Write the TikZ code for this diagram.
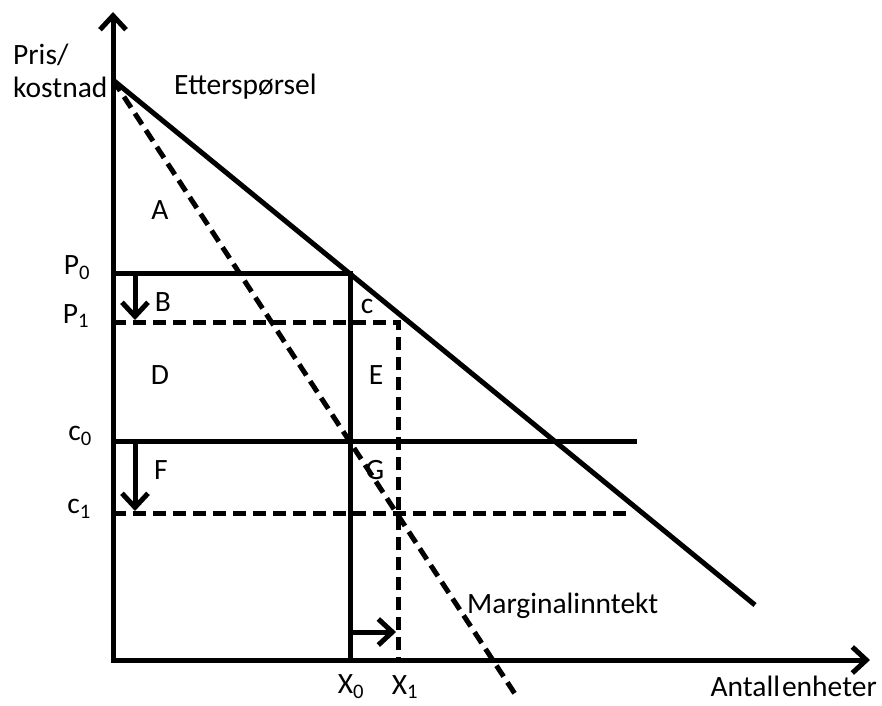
\documentclass[tikz,border=0pt]{standalone}
\usepackage{fontspec}
\setmainfont{Carlito}
\usetikzlibrary{arrows.meta}
\tikzset{
  solidline/.style={line width=5pt},
  dashline/.style={line width=5pt, dash pattern=on 13pt off 7pt},
  barb/.style={-{Straight Barb[length=14pt,width=26pt]}},
  lab/.style={inner sep=0pt, font=\fontsize{29.5}{34}\selectfont},
}
\begin{document}
\begin{tikzpicture}[x=1pt,y=-1pt]
\useasboundingbox (0,0) rectangle (882,705);
% key points
\coordinate (O) at (113,660);
\coordinate (ytop) at (113,12);
\coordinate (xtip) at (870,660);
\coordinate (Ds) at (113,80);
\coordinate (De) at (755,605);
\coordinate (MRe) at (517,697);
\coordinate (P0l) at (113,273);
\coordinate (P0r) at (350,273);
\coordinate (P1l) at (113,322);
\coordinate (P1r) at (398,322);
\coordinate (X0b) at (350,660);
\coordinate (X1b) at (398,660);
\coordinate (c0l) at (113,441);
\coordinate (c0r) at (637,441);
\coordinate (c1l) at (113,513);
\coordinate (c1r) at (633,513);
\coordinate (a1s) at (135,273);
\coordinate (a1e) at (135,320);
\coordinate (a2s) at (135,441);
\coordinate (a2e) at (135,511);
\coordinate (a3s) at (350,632);
\coordinate (a3e) at (396,632);
% axes
\draw[solidline, {Straight Barb[length=14pt,width=26pt]}-{Straight Barb[length=14pt,width=26pt]}] (ytop) -- (O) -- (xtip);
% demand and marginal revenue
\draw[solidline] (Ds) -- (De);
\draw[dashline] (Ds) -- (MRe);
% price lines
\draw[solidline] (P0l) -- (P0r) -- (X0b);
\draw[dashline] (P1l) -- (P1r) -- (X1b);
% cost lines
\draw[solidline] (c0l) -- (c0r);
\draw[dashline] (c1l) -- (c1r);
% shift arrows
\draw[solidline, barb] (a1s) -- (a1e);
\draw[solidline, barb] (a2s) -- (a2e);
\draw[solidline, barb] (a3s) -- (a3e);
% labels
\node[lab, anchor=base west] (pris) at (13,64) {Pris/};
\node[lab, anchor=base west] (kost) at (13,97) {kostnad};
\node[lab, anchor=base west] (ett) at (174,94) {Etterspørsel};
\node[lab] (A) at (160,210) {A};
\node[lab] (B) at (163,302) {B};
\node[lab] (c) at (367,306) {c};
\node[lab] (D) at (160,375) {D};
\node[lab] (E) at (376,375) {E};
\node[lab] (F) at (161,470) {F};
\node[lab] (G) at (375,470) {G};
\node[lab] (P0) at (77,268) {P\textsubscript{0}};
\node[lab] (P1) at (76,316) {P\textsubscript{1}};
\node[lab] (c0) at (80,436) {c\textsubscript{0}};
\node[lab] (c1) at (79,509) {c\textsubscript{1}};
\node[lab] (X0) at (351,687) {X\textsubscript{0}};
\node[lab] (X1) at (405,687) {X\textsubscript{1}};
\node[lab, anchor=west] (MR) at (467,606) {Marginalinntekt};
\node[lab, anchor=east] (ant) at (877,686) {Antall\hspace{2pt}enheter};
\end{tikzpicture}
\end{document}
